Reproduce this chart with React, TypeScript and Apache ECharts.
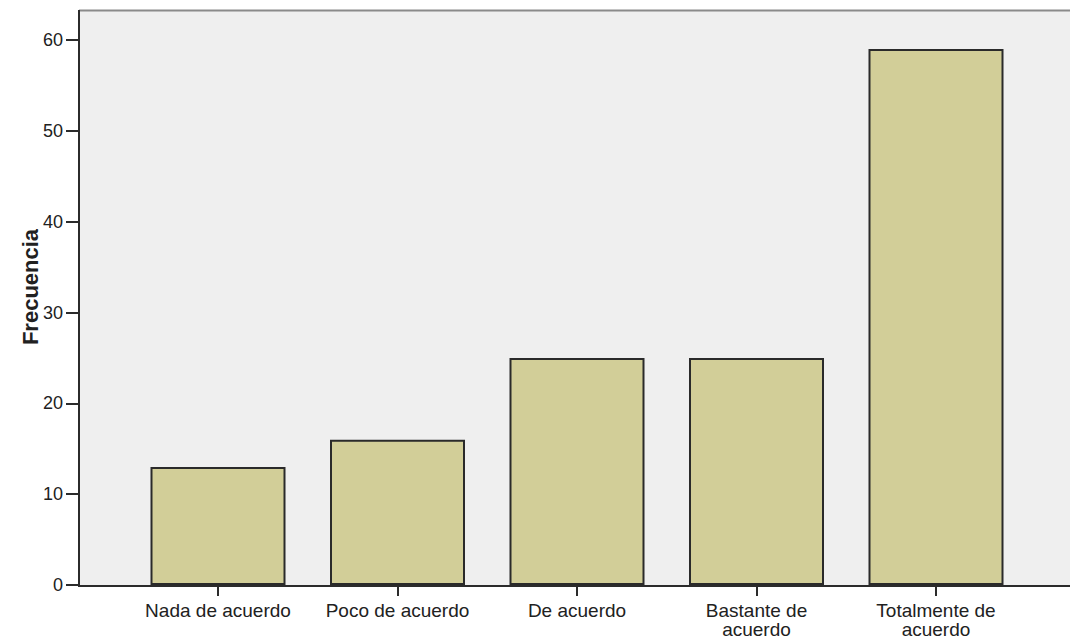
import React, { useEffect, useRef } from "react";
import * as echarts from "echarts";

const categories = [
  "Nada de acuerdo",
  "Poco de acuerdo",
  "De acuerdo",
  "Bastante de\nacuerdo",
  "Totalmente de\nacuerdo",
];
const frequencies = [13, 16, 25, 25, 59];
const yTicks = [0, 10, 20, 30, 40, 50, 60];
const yAxisTitle = "Frecuencia";

export default function App() {
  const ref = useRef<HTMLDivElement>(null);

  useEffect(() => {
    if (!ref.current) return;
    const chart = echarts.init(ref.current, null, { renderer: "svg" });
    const textColor = "#212121";
    const axisColor = "#2b2b2b";
    const font = "'Liberation Sans', Arial, sans-serif";

    chart.setOption({
      animation: false,
      backgroundColor: "#ffffff",
      grid: { left: 128.25, right: 44.25, top: 40, bottom: 53, containLabel: false },
      graphic: [
        {
          type: "rect",
          z: -10,
          shape: { x: 79, y: 10, width: 1000, height: 576 },
          style: { fill: "#efefef" },
          silent: true,
        },
        {
          type: "line",
          z: 100,
          shape: { x1: 79, y1: 10.5, x2: 1070, y2: 10.5 },
          style: { stroke: "#8a8a8a", lineWidth: 2 },
          silent: true,
        },
        {
          type: "line",
          z: 100,
          shape: { x1: 79, y1: 10, x2: 79, y2: 587 },
          style: { stroke: axisColor, lineWidth: 2 },
          silent: true,
        },
        {
          type: "line",
          z: 100,
          shape: { x1: 78, y1: 586, x2: 1070, y2: 586 },
          style: { stroke: axisColor, lineWidth: 2 },
          silent: true,
        },
        {
          type: "text",
          z: 100,
          x: 30,
          y: 287,
          rotation: Math.PI / 2,
          style: {
            text: yAxisTitle,
            fill: textColor,
            font: `bold 22px ${font}`,
            textAlign: "center",
            textVerticalAlign: "middle",
          },
          silent: true,
        },
      ],
      xAxis: {
        type: "category",
        data: categories,
        axisLine: { show: false },
        axisTick: {
          show: true,
          alignWithLabel: true,
          length: 11,
          lineStyle: { color: axisColor, width: 2 },
        },
        axisLabel: {
          color: textColor,
          fontSize: 19,
          fontFamily: font,
          margin: 16,
          lineHeight: 19,
          interval: 0,
        },
        splitLine: { show: false },
      },
      yAxis: {
        type: "value",
        min: yTicks[0],
        max: yTicks[yTicks.length - 1],
        interval: 10,
        offset: 49.25,
        axisLine: { show: false },
        axisTick: {
          show: true,
          length: 13,
          lineStyle: { color: axisColor, width: 2 },
        },
        axisLabel: {
          color: textColor,
          fontSize: 18,
          fontFamily: font,
          margin: 16,
        },
        splitLine: { show: false },
      },
      series: [
        {
          type: "bar",
          data: frequencies,
          barWidth: 135,
          z: 5,
          itemStyle: {
            color: "#d2ce98",
            borderColor: "#2a2a2a",
            borderWidth: 2,
          },
        },
      ],
    });

    return () => chart.dispose();
  }, []);

  return (
    <div
      ref={ref}
      style={{ position: "fixed", left: 0, top: 0, width: 1070, height: 639 }}
    />
  );
}
